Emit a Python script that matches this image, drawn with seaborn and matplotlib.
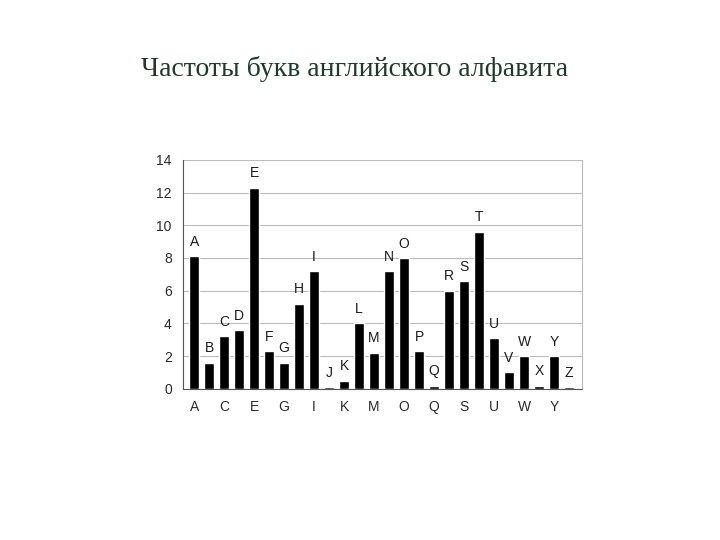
import matplotlib
matplotlib.use("Agg")
import matplotlib.pyplot as plt
import seaborn as sns
import pandas as pd


# ============================================================
# DATA
# ============================================================

letters = list("ABCDEFGHIJKLMNOPQRSTUVWXYZ")
freq = [8.1, 1.6, 3.2, 3.6, 12.3, 2.3, 1.6, 5.2, 7.2, 0.1,
        0.5, 4.0, 2.2, 7.2, 8.0, 2.3, 0.2, 6.0, 6.6, 9.6,
        3.1, 1.0, 2.0, 0.2, 2.0, 0.1]
tick_labels = ["A", "C", "E", "G", "I", "K", "M", "O", "Q", "S", "U", "W", "Y"]
y_ticks = [0, 2, 4, 6, 8, 10, 12, 14]

title = "Частоты букв английского алфавита"

df = pd.DataFrame({"letter": letters, "freq": freq})


# ============================================================
# CHART
# ============================================================

sns.set_style("white")
plt.rcParams["font.family"] = ["Liberation Sans", "DejaVu Sans"]

fig = plt.figure(figsize=(7.2, 5.4), dpi=100)
ax = fig.add_axes([0.254, 0.280, 0.554, 0.424])

sns.barplot(
    data=df,
    x="letter",
    y="freq",
    color="black",
    width=0.62,
    ax=ax
)

for i, (l, v) in enumerate(zip(letters, freq)):
    ax.text(i, v + 0.45, l, ha="center", va="bottom",
            fontsize=10, color="#1a1a1a")

ax.set_ylim(0, 14)
ax.set_xlim(-0.75, 25.85)
ax.set_yticks(y_ticks)
ax.set_xticks([letters.index(t) for t in tick_labels])
ax.set_xticklabels(tick_labels)
ax.tick_params(axis="both", labelsize=10, colors="#2a2a2a", length=0, pad=8)
ax.set_xlabel("")
ax.set_ylabel("")

ax.yaxis.grid(True, color="#bbbbbb", linewidth=0.8)
ax.set_axisbelow(True)
ax.spines["top"].set_visible(False)
ax.spines["right"].set_color("#bbbbbb")
ax.spines["left"].set_color("#555555")
ax.spines["bottom"].set_color("#555555")

fig.text(0.493, 0.873, title, ha="center", va="center",
         fontsize=20, color="#1f3a2c", family=["Liberation Serif"])

plt.savefig("out.png", dpi=100)
plt.close()
